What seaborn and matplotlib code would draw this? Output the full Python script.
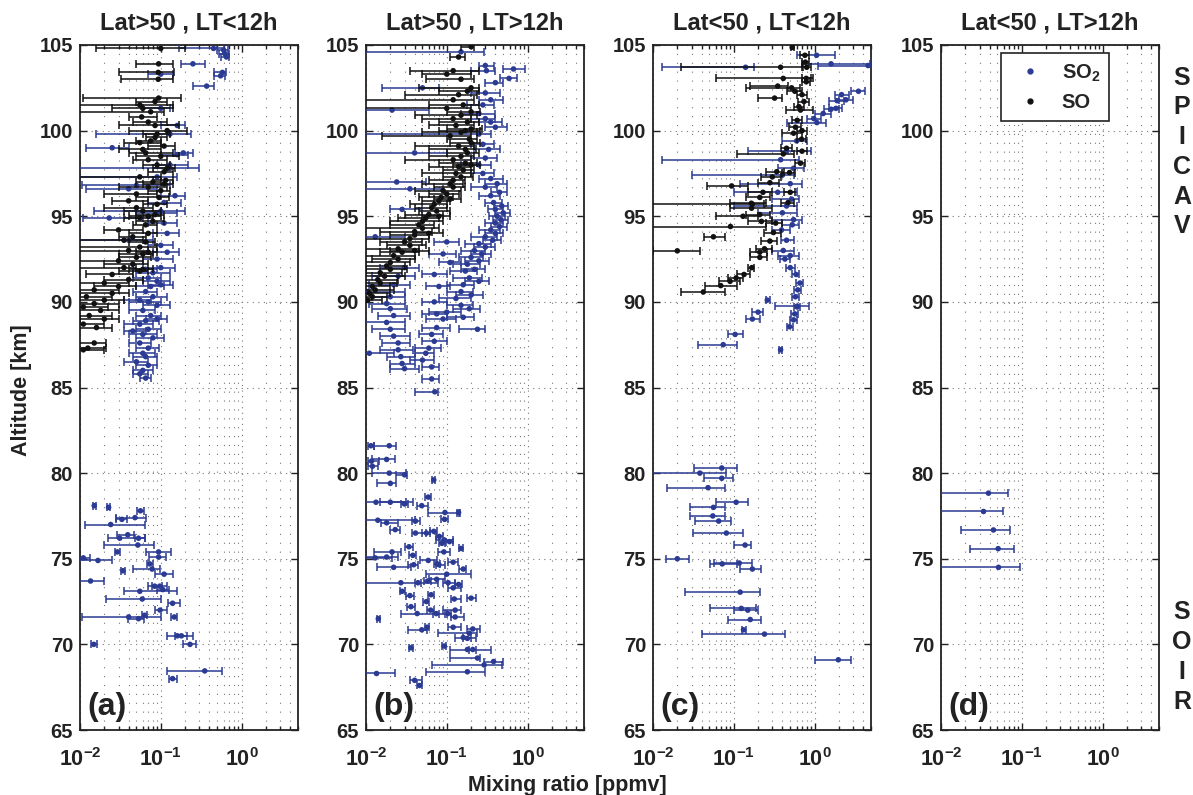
import numpy as np
import pandas as pd
import matplotlib
matplotlib.use("Agg")
import matplotlib.pyplot as plt
import seaborn as sns
from matplotlib.ticker import FixedLocator, FixedFormatter, LogLocator, NullFormatter
from matplotlib.lines import Line2D

# ---------------- data (altitude km, mixing ratio ppmv, bar low, bar high) ----------------
titles = ["Lat>50 , LT<12h", "Lat>50 , LT>12h", "Lat<50 , LT<12h", "Lat<50 , LT>12h"]
panel_labels = ["(a)", "(b)", "(c)", "(d)"]
species_labels = ["SO$_2$", "SO"]
xtick_values = [0.01, 0.1, 1.0]
xtick_labels = [r"$10^{-2}$", r"$10^{-1}$", r"$10^{0}$"]
ytick_values = [65, 70, 75, 80, 85, 90, 95, 100, 105]

a_so2 = [
    (104.8, 0.45, 0.17, 0.60), (104.7, 0.60, 0.50, 0.68), (104.5, 0.62, 0.52, 0.70), (104.3, 0.65, 0.55, 0.70),
    (103.9, 0.25, 0.18, 0.35), (103.4, 0.58, 0.45, 0.65), (103.2, 0.55, 0.45, 0.62), (103.3, 0.10, 0.07, 0.14),
    (102.6, 0.37, 0.25, 0.45), (101.3, 0.10, 0.06, 0.13), (100.3, 0.16, 0.10, 0.20), (99.8, 0.13, 0.016, 0.24),
    (99.0, 0.025, 0.012, 0.04), (98.7, 0.19, 0.15, 0.25), (98.6, 0.16, 0.10, 0.22), (98.0, 0.13, 0.09, 0.22),
    (97.8, 0.13, 0.005, 0.30), (97.3, 0.09, 0.005, 0.16), (96.8, 0.05, 0.0105, 0.13), (96.6, 0.04, 0.012, 0.09),
    (96.2, 0.15, 0.10, 0.20), (95.8, 0.11, 0.07, 0.18), (95.3, 0.10, 0.015, 0.20), (95.2, 0.09, 0.05, 0.16),
    (94.9, 0.023, 0.011, 0.06), (94.6, 0.11, 0.07, 0.16), (94.0, 0.12, 0.08, 0.17), (93.6, 0.04, 0.005, 0.08),
    (93.3, 0.10, 0.07, 0.14), (92.9, 0.12, 0.08, 0.17), (92.5, 0.09, 0.06, 0.14), (92.0, 0.10, 0.06, 0.15),
    (91.9, 0.065, 0.045, 0.09), (91.7, 0.08, 0.05, 0.13), (91.4, 0.07, 0.045, 0.10), (91.2, 0.09, 0.06, 0.13),
    (91.0, 0.10, 0.07, 0.14), (90.9, 0.075, 0.05, 0.11), (90.6, 0.065, 0.045, 0.09), (90.3, 0.08, 0.05, 0.12),
    (90.1, 0.055, 0.035, 0.075), (90.0, 0.07, 0.04, 0.10), (89.8, 0.09, 0.06, 0.13), (89.5, 0.06, 0.04, 0.085),
    (89.2, 0.075, 0.05, 0.10), (89.0, 0.09, 0.065, 0.12), (88.9, 0.065, 0.045, 0.095), (88.7, 0.055, 0.035, 0.08),
    (88.4, 0.07, 0.05, 0.10), (88.3, 0.045, 0.035, 0.065), (88.1, 0.06, 0.04, 0.09), (87.9, 0.08, 0.05, 0.11),
    (87.6, 0.055, 0.04, 0.075), (87.3, 0.07, 0.05, 0.095), (87.0, 0.06, 0.04, 0.085), (86.8, 0.065, 0.045, 0.09),
    (86.5, 0.05, 0.035, 0.07), (86.3, 0.07, 0.05, 0.09), (86.0, 0.06, 0.045, 0.08), (85.8, 0.055, 0.045, 0.07),
    (85.55, 0.065, 0.055, 0.075),
    # SOIR
    (78.1, 0.015, 0.0145, 0.0157), (78.0, 0.0226, 0.0215, 0.0238), (77.8, 0.056, 0.051, 0.062),
    (77.4, 0.048, 0.028, 0.066), (77.3, 0.033, 0.028, 0.038), (77.0, 0.024, 0.0115, 0.063),
    (76.4, 0.039, 0.029, 0.046), (76.2, 0.031, 0.022, 0.063), (76.2, 0.053, 0.048, 0.063),
    (75.8, 0.052, 0.020, 0.083), (75.4, 0.094, 0.066, 0.135), (75.4, 0.029, 0.027, 0.031),
    (75.05, 0.011, 0.0095, 0.0133), (75.1, 0.094, 0.071, 0.115), (74.9, 0.0167, 0.0095, 0.025),
    (74.7, 0.073, 0.067, 0.080), (74.4, 0.078, 0.045, 0.099), (74.3, 0.034, 0.032, 0.036),
    (74.1, 0.11, 0.085, 0.14), (73.7, 0.0135, 0.0095, 0.020), (73.4, 0.084, 0.070, 0.103),
    (73.4, 0.097, 0.078, 0.118), (73.1, 0.055, 0.035, 0.160), (73.2, 0.106, 0.090, 0.125),
    (72.65, 0.059, 0.021, 0.100), (72.4, 0.14, 0.123, 0.175), (72.0, 0.098, 0.085, 0.118),
    (71.7, 0.063, 0.058, 0.068), (71.6, 0.040, 0.0105, 0.100), (71.5, 0.053, 0.039, 0.062),
    (71.6, 0.147, 0.135, 0.158), (70.5, 0.16, 0.120, 0.250), (70.5, 0.18, 0.150, 0.210),
    (70.0, 0.23, 0.190, 0.270), (70.0, 0.0148, 0.0135, 0.0162), (68.45, 0.35, 0.120, 0.580),
    (68.0, 0.14, 0.126, 0.158),
]

a_so = [
    (104.8, 0.10, 0.016, 0.20), (103.9, 0.094, 0.05, 0.14), (103.4, 0.093, 0.03, 0.145), (103.0, 0.093, 0.032, 0.14),
    (101.9, 0.094, 0.011, 0.18), (101.7, 0.085, 0.05, 0.12), (101.5, 0.055, 0.005, 0.14), (101.3, 0.06, 0.025, 0.14),
    (101.1, 0.075, 0.005, 0.11), (100.8, 0.058, 0.04, 0.09), (100.5, 0.07, 0.045, 0.12), (100.3, 0.085, 0.03, 0.17),
    (100.0, 0.12, 0.04, 0.21), (99.8, 0.09, 0.06, 0.13), (99.6, 0.085, 0.065, 0.12), (99.4, 0.075, 0.05, 0.10),
    (99.3, 0.055, 0.035, 0.10), (99.1, 0.11, 0.07, 0.15), (98.9, 0.06, 0.03, 0.10), (98.7, 0.065, 0.04, 0.14),
    (98.5, 0.10, 0.05, 0.17), (98.3, 0.07, 0.045, 0.12), (98.0, 0.09, 0.06, 0.13), (97.8, 0.12, 0.08, 0.15),
    (97.6, 0.11, 0.07, 0.14), (97.3, 0.055, 0.005, 0.10), (97.1, 0.115, 0.08, 0.14), (97.0, 0.08, 0.05, 0.10),
    (96.9, 0.11, 0.06, 0.14), (96.7, 0.07, 0.03, 0.12), (96.5, 0.10, 0.07, 0.13), (96.3, 0.05, 0.02, 0.09),
    (96.1, 0.095, 0.05, 0.125), (95.9, 0.04, 0.025, 0.07), (95.7, 0.09, 0.06, 0.12), (95.5, 0.05, 0.02, 0.08),
    (95.3, 0.06, 0.035, 0.10), (95.1, 0.085, 0.05, 0.11), (95.0, 0.07, 0.04, 0.10), (94.9, 0.055, 0.035, 0.08),
    (94.7, 0.08, 0.05, 0.11), (94.5, 0.065, 0.045, 0.09), (94.2, 0.03, 0.02, 0.06), (94.0, 0.07, 0.04, 0.09),
    (93.8, 0.045, 0.03, 0.065), (93.6, 0.035, 0.005, 0.06), (93.5, 0.065, 0.04, 0.085), (93.2, 0.055, 0.005, 0.09),
    (93.0, 0.04, 0.005, 0.07), (92.9, 0.07, 0.05, 0.09), (92.8, 0.06, 0.03, 0.08), (92.6, 0.05, 0.03, 0.075),
    (92.4, 0.03, 0.005, 0.06), (92.2, 0.045, 0.02, 0.07), (92.0, 0.035, 0.005, 0.05), (91.9, 0.06, 0.04, 0.08),
    (91.8, 0.055, 0.03, 0.07), (91.6, 0.025, 0.012, 0.045), (91.3, 0.04, 0.02, 0.06), (91.1, 0.02, 0.005, 0.04),
    (90.9, 0.03, 0.015, 0.05), (90.7, 0.015, 0.005, 0.03), (90.5, 0.025, 0.01, 0.04), (90.3, 0.012, 0.005, 0.025),
    (90.1, 0.02, 0.005, 0.035), (89.9, 0.015, 0.005, 0.03), (89.7, 0.011, 0.005, 0.022), (89.5, 0.018, 0.005, 0.03),
    (89.2, 0.013, 0.005, 0.025), (89.0, 0.02, 0.01, 0.03), (88.7, 0.011, 0.005, 0.02), (88.5, 0.016, 0.005, 0.025),
    (87.6, 0.015, 0.005, 0.021), (87.3, 0.0125, 0.005, 0.021), (87.2, 0.011, 0.005, 0.02),
]

b_so2 = [
    (104.6, 0.15, 0.005, 0.29), (103.8, 0.30, 0.25, 0.38), (103.5, 0.31, 0.20, 0.40), (103.6, 0.67, 0.49, 0.94),
    (103.05, 0.59, 0.45, 0.75), (102.8, 0.40, 0.30, 0.50), (102.5, 0.05, 0.016, 0.08), (102.2, 0.30, 0.20, 0.45),
    (101.8, 0.35, 0.25, 0.50), (101.5, 0.28, 0.18, 0.38), (101.2, 0.021, 0.005, 0.06), (101.0, 0.25, 0.15, 0.40),
    (100.7, 0.30, 0.20, 0.40), (100.5, 0.35, 0.25, 0.48), (100.2, 0.40, 0.30, 0.55), (99.8, 0.25, 0.005, 0.35),
    (99.2, 0.28, 0.20, 0.38), (98.9, 0.33, 0.22, 0.45), (98.7, 0.04, 0.005, 0.10), (98.4, 0.30, 0.20, 0.42),
    (98.0, 0.25, 0.15, 0.35), (97.5, 0.28, 0.20, 0.38), (97.2, 0.35, 0.25, 0.50), (97.0, 0.024, 0.005, 0.055),
    (96.9, 0.42, 0.30, 0.55), (96.7, 0.30, 0.20, 0.42), (96.6, 0.035, 0.005, 0.09), (96.4, 0.45, 0.35, 0.55),
    (96.2, 0.35, 0.25, 0.45), (95.8, 0.38, 0.30, 0.48), (95.6, 0.48, 0.38, 0.58), (95.4, 0.028, 0.02, 0.05),
    (95.4, 0.40, 0.32, 0.50), (95.2, 0.50, 0.40, 0.60), (95.0, 0.42, 0.33, 0.52), (94.8, 0.47, 0.37, 0.57),
    (94.6, 0.40, 0.30, 0.50), (94.4, 0.45, 0.35, 0.55), (94.2, 0.35, 0.25, 0.45), (94.0, 0.40, 0.30, 0.50),
    (93.8, 0.013, 0.005, 0.03), (93.8, 0.30, 0.20, 0.42), (93.6, 0.37, 0.28, 0.47), (93.5, 0.10, 0.07, 0.14),
    (93.4, 0.25, 0.17, 0.35), (93.2, 0.30, 0.22, 0.40), (93.0, 0.22, 0.15, 0.30), (92.8, 0.09, 0.06, 0.13),
    (92.8, 0.27, 0.20, 0.35), (92.6, 0.20, 0.14, 0.28), (92.4, 0.25, 0.17, 0.33), (92.3, 0.11, 0.08, 0.15),
    (92.2, 0.18, 0.12, 0.26), (92.0, 0.03, 0.015, 0.045), (91.9, 0.22, 0.15, 0.30), (91.8, 0.17, 0.11, 0.24),
    (91.6, 0.07, 0.05, 0.10), (91.5, 0.025, 0.012, 0.04), (91.4, 0.19, 0.12, 0.27), (91.2, 0.25, 0.17, 0.33),
    (91.0, 0.16, 0.10, 0.22), (91.0, 0.022, 0.011, 0.035), (90.9, 0.08, 0.055, 0.11), (90.6, 0.15, 0.10, 0.21),
    (90.6, 0.0105, 0.005, 0.03), (90.4, 0.20, 0.13, 0.28), (90.3, 0.02, 0.012, 0.03), (90.2, 0.13, 0.08, 0.20),
    (90.0, 0.07, 0.05, 0.10), (89.9, 0.018, 0.011, 0.03), (89.8, 0.15, 0.10, 0.21), (89.6, 0.02, 0.012, 0.032),
    (89.6, 0.19, 0.12, 0.26), (89.4, 0.10, 0.06, 0.15), (89.3, 0.075, 0.05, 0.10), (89.2, 0.022, 0.014, 0.035),
    (89.1, 0.16, 0.10, 0.22), (89.0, 0.09, 0.055, 0.13), (88.8, 0.018, 0.005, 0.03), (88.5, 0.075, 0.05, 0.11),
    (88.4, 0.24, 0.14, 0.30), (88.4, 0.02, 0.012, 0.03), (88.1, 0.065, 0.045, 0.09), (88.0, 0.022, 0.015, 0.035),
    (87.7, 0.07, 0.05, 0.10), (87.6, 0.025, 0.016, 0.035), (87.3, 0.06, 0.04, 0.085), (87.2, 0.025, 0.015, 0.038),
    (87.0, 0.055, 0.04, 0.07), (87.0, 0.011, 0.005, 0.022), (86.8, 0.027, 0.018, 0.04), (86.6, 0.05, 0.035, 0.07),
    (86.4, 0.028, 0.02, 0.04), (86.2, 0.065, 0.05, 0.08), (86.1, 0.03, 0.02, 0.045), (85.5, 0.065, 0.05, 0.08),
    # SOIR
    (84.75, 0.071, 0.040, 0.077), (81.6, 0.0115, 0.0105, 0.0127), (81.6, 0.0194, 0.0127, 0.0237),
    (80.8, 0.018, 0.0117, 0.0227), (80.7, 0.0117, 0.0105, 0.0145), (80.4, 0.012, 0.0105, 0.014),
    (80.0, 0.0194, 0.0117, 0.0317), (79.9, 0.030, 0.0237, 0.0322), (79.4, 0.020, 0.0135, 0.0233),
    (79.6, 0.069, 0.066, 0.072), (78.6, 0.059, 0.053, 0.064), (78.3, 0.0133, 0.0095, 0.0317),
    (78.3, 0.020, 0.0150, 0.0377), (78.2, 0.030, 0.027, 0.033), (78.1, 0.049, 0.043, 0.059),
    (77.7, 0.095, 0.058, 0.14), (77.7, 0.14, 0.132, 0.145), (77.3, 0.094, 0.086, 0.104),
    (77.25, 0.014, 0.0095, 0.041), (77.1, 0.018, 0.0153, 0.0252), (77.2, 0.041, 0.037, 0.046),
    (76.7, 0.023, 0.020, 0.026), (76.5, 0.041, 0.037, 0.056), (76.5, 0.056, 0.050, 0.062),
    (76.6, 0.069, 0.062, 0.076), (76.3, 0.081, 0.074, 0.090), (76.1, 0.093, 0.073, 0.12),
    (76.0, 0.108, 0.098, 0.118), (75.9, 0.087, 0.080, 0.095), (75.6, 0.15, 0.143, 0.16),
    (75.7, 0.034, 0.030, 0.038), (75.4, 0.092, 0.077, 0.11), (75.4, 0.021, 0.0127, 0.027),
    (75.2, 0.038, 0.034, 0.042), (75.1, 0.018, 0.0095, 0.025), (75.05, 0.013, 0.0095, 0.021),
    (74.9, 0.059, 0.046, 0.075), (74.7, 0.076, 0.070, 0.082), (74.65, 0.080, 0.073, 0.095),
    (74.8, 0.12, 0.104, 0.138), (74.65, 0.039, 0.033, 0.044), (74.5, 0.022, 0.0135, 0.036),
    (74.4, 0.16, 0.143, 0.175), (74.1, 0.10, 0.055, 0.20), (73.8, 0.075, 0.061, 0.095),
    (73.6, 0.027, 0.0095, 0.077), (73.6, 0.044, 0.040, 0.048), (73.7, 0.058, 0.052, 0.064),
    (73.6, 0.104, 0.089, 0.127), (73.5, 0.14, 0.125, 0.155), (73.1, 0.028, 0.026, 0.030),
    (72.85, 0.035, 0.031, 0.039), (72.9, 0.064, 0.058, 0.070), (73.3, 0.12, 0.104, 0.15),
    (72.65, 0.124, 0.113, 0.15), (72.7, 0.20, 0.18, 0.23), (72.2, 0.036, 0.032, 0.040),
    (72.5, 0.056, 0.051, 0.061), (72.0, 0.063, 0.057, 0.069), (71.8, 0.043, 0.027, 0.10),
    (71.8, 0.074, 0.068, 0.081), (71.8, 0.103, 0.094, 0.113), (72.0, 0.127, 0.089, 0.15),
    (71.6, 0.127, 0.113, 0.165), (71.5, 0.0142, 0.0135, 0.015), (71.0, 0.057, 0.054, 0.060),
    (70.85, 0.049, 0.033, 0.057), (71.0, 0.12, 0.104, 0.15), (70.9, 0.21, 0.18, 0.26),
    (70.65, 0.19, 0.077, 0.24), (70.4, 0.16, 0.127, 0.23), (70.35, 0.18, 0.16, 0.20),
    (69.9, 0.093, 0.088, 0.098), (69.8, 0.036, 0.034, 0.038), (69.7, 0.18, 0.11, 0.35),
    (69.7, 0.21, 0.19, 0.23), (69.2, 0.24, 0.11, 0.26), (69.0, 0.38, 0.29, 0.50),
    (68.8, 0.29, 0.066, 0.48), (68.3, 0.0135, 0.0095, 0.0227), (68.4, 0.18, 0.055, 0.30),
    (67.9, 0.040, 0.035, 0.050), (67.6, 0.046, 0.043, 0.049),
]

b_so = [
    (104.9, 0.20, 0.15, 0.22), (104.3, 0.14, 0.11, 0.17), (103.5, 0.12, 0.035, 0.25), (103.3, 0.10, 0.05, 0.20),
    (103.0, 0.15, 0.055, 0.22), (102.5, 0.20, 0.045, 0.25), (102.3, 0.18, 0.08, 0.25), (102.1, 0.14, 0.03, 0.24),
    (101.8, 0.12, 0.005, 0.22), (101.5, 0.16, 0.06, 0.25), (101.3, 0.10, 0.005, 0.20), (101.1, 0.20, 0.10, 0.26),
    (100.9, 0.15, 0.04, 0.24), (100.7, 0.12, 0.05, 0.20), (100.5, 0.18, 0.08, 0.25), (100.3, 0.13, 0.06, 0.22),
    (100.1, 0.20, 0.10, 0.27), (100.0, 0.17, 0.08, 0.26), (99.9, 0.15, 0.05, 0.24), (99.7, 0.11, 0.016, 0.20),
    (99.5, 0.19, 0.10, 0.24), (99.3, 0.20, 0.11, 0.26), (99.1, 0.14, 0.04, 0.22), (98.9, 0.17, 0.06, 0.23),
    (98.7, 0.18, 0.10, 0.25), (98.5, 0.15, 0.06, 0.22), (98.3, 0.12, 0.03, 0.20), (98.1, 0.17, 0.08, 0.24),
    (98.0, 0.20, 0.12, 0.26), (97.9, 0.14, 0.06, 0.20), (97.7, 0.16, 0.09, 0.22), (97.5, 0.13, 0.05, 0.20),
    (97.3, 0.15, 0.09, 0.21), (97.1, 0.12, 0.06, 0.17), (96.9, 0.11, 0.05, 0.16), (96.7, 0.12, 0.07, 0.17),
    (96.5, 0.09, 0.04, 0.15), (96.3, 0.10, 0.06, 0.14), (96.1, 0.085, 0.045, 0.12), (96.0, 0.11, 0.07, 0.15),
    (95.9, 0.08, 0.05, 0.11), (95.7, 0.07, 0.035, 0.10), (95.5, 0.065, 0.04, 0.10), (95.3, 0.075, 0.045, 0.11),
    (95.1, 0.06, 0.03, 0.09), (95.0, 0.08, 0.05, 0.11), (94.9, 0.055, 0.025, 0.08), (94.7, 0.05, 0.02, 0.09),
    (94.5, 0.045, 0.02, 0.07), (94.3, 0.05, 0.005, 0.08), (94.1, 0.04, 0.015, 0.065), (94.0, 0.06, 0.04, 0.09),
    (93.9, 0.04, 0.02, 0.06), (93.7, 0.035, 0.005, 0.06), (93.5, 0.03, 0.015, 0.05), (93.3, 0.035, 0.018, 0.055),
    (93.1, 0.025, 0.005, 0.045), (93.0, 0.04, 0.02, 0.06), (92.9, 0.028, 0.015, 0.045), (92.7, 0.022, 0.005, 0.04),
    (92.5, 0.025, 0.012, 0.04), (92.3, 0.02, 0.005, 0.035), (92.1, 0.018, 0.005, 0.03), (91.9, 0.02, 0.01, 0.032),
    (91.7, 0.015, 0.005, 0.028), (91.5, 0.017, 0.005, 0.03), (91.3, 0.014, 0.005, 0.025), (91.1, 0.015, 0.005, 0.024),
    (90.9, 0.012, 0.005, 0.02), (90.7, 0.013, 0.005, 0.022), (90.5, 0.011, 0.005, 0.02), (90.3, 0.012, 0.005, 0.018),
    (90.1, 0.0105, 0.005, 0.016),
]

c_so2 = [
    (104.4, 1.06, 0.60, 1.80), (103.7, 0.14, 0.013, 0.18), (103.9, 1.60, 0.70, 4.80), (103.8, 4.60, 1.10, 6.00),
    (102.3, 3.50, 2.80, 4.20), (102.1, 2.16, 1.80, 2.70), (101.8, 2.45, 2.00, 3.00), (101.75, 1.90, 1.50, 2.30),
    (101.3, 1.84, 1.50, 2.20), (101.25, 1.60, 1.30, 2.00), (101.0, 1.28, 1.00, 1.60), (100.7, 0.98, 0.80, 1.20),
    (100.47, 1.07, 0.45, 1.40), (99.4, 0.60, 0.40, 0.80), (98.8, 0.45, 0.15, 0.90), (98.3, 0.38, 0.013, 0.65),
    (97.8, 0.55, 0.35, 0.75), (97.4, 0.40, 0.03, 0.55), (96.9, 0.50, 0.12, 0.70), (96.4, 0.35, 0.10, 0.60),
    (96.0, 0.52, 0.30, 0.65), (95.6, 0.45, 0.10, 0.60), (95.2, 0.40, 0.20, 0.60), (94.8, 0.55, 0.30, 0.70),
    (94.5, 0.53, 0.40, 0.65), (94.2, 0.39, 0.30, 0.50), (93.6, 0.45, 0.38, 0.55), (93.0, 0.41, 0.30, 0.55),
    (92.7, 0.50, 0.35, 0.65), (92.5, 0.43, 0.37, 0.50), (92.0, 0.50, 0.44, 0.57), (91.6, 0.59, 0.53, 0.65),
    (91.1, 0.66, 0.59, 0.72), (90.7, 0.62, 0.56, 0.68), (90.3, 0.58, 0.52, 0.64), (90.1, 0.26, 0.25, 0.28),
    (89.75, 0.61, 0.32, 0.85), (89.7, 0.61, 0.55, 0.67), (89.4, 0.20, 0.17, 0.23), (89.3, 0.57, 0.51, 0.63),
    (89.0, 0.17, 0.14, 0.21), (88.95, 0.55, 0.50, 0.60), (88.55, 0.49, 0.45, 0.54), (88.1, 0.104, 0.085, 0.13),
    (87.5, 0.074, 0.036, 0.11), (87.2, 0.38, 0.36, 0.40),
    # SOIR
    (80.3, 0.071, 0.032, 0.11), (80.0, 0.038, 0.009, 0.081), (79.7, 0.071, 0.043, 0.097),
    (79.15, 0.048, 0.015, 0.077), (78.3, 0.107, 0.060, 0.15), (78.0, 0.056, 0.029, 0.077),
    (77.5, 0.055, 0.029, 0.077), (77.2, 0.065, 0.033, 0.093), (76.5, 0.081, 0.031, 0.13),
    (75.8, 0.138, 0.10, 0.165), (75.0, 0.020, 0.0145, 0.028), (74.7, 0.072, 0.051, 0.11),
    (74.75, 0.117, 0.057, 0.17), (74.4, 0.17, 0.121, 0.22), (73.05, 0.12, 0.025, 0.21),
    (72.1, 0.124, 0.051, 0.19), (72.0, 0.149, 0.10, 0.20), (71.45, 0.16, 0.085, 0.22),
    (70.85, 0.132, 0.125, 0.14), (70.6, 0.24, 0.040, 0.43), (69.1, 1.97, 1.00, 2.80),
]

c_so = [
    (104.86, 0.53, 0.51, 0.55), (104.4, 0.76, 0.66, 0.86), (104.0, 0.77, 0.70, 0.85), (103.7, 0.38, 0.022, 0.70),
    (103.7, 0.80, 0.72, 0.90), (103.05, 0.41, 0.060, 0.95), (103.05, 0.79, 0.70, 0.90), (102.85, 0.79, 0.70, 0.88),
    (102.6, 0.35, 0.16, 0.47), (102.5, 0.52, 0.14, 0.66), (102.3, 0.57, 0.45, 0.70), (102.1, 0.70, 0.60, 0.80),
    (101.9, 0.32, 0.20, 0.40), (101.7, 0.74, 0.63, 0.85), (101.4, 0.64, 0.55, 0.73), (101.2, 0.67, 0.44, 0.95),
    (100.6, 0.61, 0.52, 0.70), (100.2, 0.58, 0.48, 0.68), (100.0, 0.70, 0.60, 0.80), (99.85, 0.55, 0.40, 0.70),
    (99.5, 0.69, 0.60, 0.78), (98.97, 0.45, 0.38, 0.52), (98.8, 0.70, 0.60, 0.80), (98.64, 0.41, 0.11, 0.55),
    (98.1, 0.67, 0.58, 0.76), (97.6, 0.34, 0.25, 0.42), (97.55, 0.49, 0.40, 0.58), (97.3, 0.30, 0.22, 0.38),
    (96.96, 0.28, 0.20, 0.36), (96.77, 0.094, 0.046, 0.15), (96.4, 0.50, 0.42, 0.58), (96.4, 0.23, 0.15, 0.30),
    (96.1, 0.21, 0.14, 0.28), (95.8, 0.47, 0.38, 0.55), (95.76, 0.165, 0.09, 0.25), (95.7, 0.17, 0.005, 0.24),
    (95.47, 0.166, 0.09, 0.30), (95.0, 0.13, 0.06, 0.20), (95.1, 0.21, 0.14, 0.28), (94.7, 0.22, 0.15, 0.30),
    (94.6, 0.33, 0.25, 0.40), (94.4, 0.091, 0.005, 0.25), (94.05, 0.31, 0.24, 0.38), (93.8, 0.056, 0.043, 0.078),
    (93.55, 0.28, 0.22, 0.34), (93.1, 0.24, 0.19, 0.30), (92.98, 0.020, 0.010, 0.038), (92.9, 0.21, 0.16, 0.26),
    (92.6, 0.21, 0.16, 0.26), (92.0, 0.167, 0.15, 0.18), (91.6, 0.134, 0.11, 0.16), (91.4, 0.107, 0.085, 0.13),
    (91.2, 0.09, 0.065, 0.12), (90.95, 0.069, 0.044, 0.11), (90.58, 0.042, 0.022, 0.078),
]

d_so2 = [
    (78.83, 0.0387, 0.005, 0.068), (77.76, 0.0336, 0.005, 0.058), (76.68, 0.0446, 0.0178, 0.072),
    (75.59, 0.051, 0.023, 0.080), (74.5, 0.0515, 0.005, 0.095),
]

panels_so2 = [a_so2, b_so2, c_so2, d_so2]
panels_so = [a_so, b_so, c_so, []]

# ---------------- style ----------------
sns.set_style("ticks")
plt.rcParams["font.family"] = ["Liberation Sans", "DejaVu Sans"]
plt.rcParams["font.weight"] = "bold"
plt.rcParams["mathtext.fontset"] = "custom"
plt.rcParams["mathtext.rm"] = "Liberation Sans:bold"
plt.rcParams["mathtext.it"] = "Liberation Sans:bold"
plt.rcParams["mathtext.bf"] = "Liberation Sans:bold"
plt.rcParams["mathtext.default"] = "rm"

BLUE = "#2b3a93"
BLACK = "#111111"
TXT = "#222222"

W, H = 1193, 795
fig = plt.figure(figsize=(W / 100, H / 100), dpi=100)
lefts = [80, 366, 653, 941]
axw, top, bottom = 218, 45, 730


def draw_series(ax, rows, color, z):
    if not rows:
        return
    df = pd.DataFrame(rows, columns=["alt", "val", "lo", "hi"])
    ax.errorbar(df["val"], df["alt"], xerr=[df["val"] - df["lo"], df["hi"] - df["val"]],
                fmt="none", ecolor=color, elinewidth=1.1, capsize=3.2, capthick=1.1, zorder=z)
    sns.scatterplot(data=df, x="val", y="alt", ax=ax, color=color, s=16, edgecolor="none",
                    linewidth=0, zorder=z + 0.5, legend=False)


for i in range(4):
    ax = fig.add_axes([lefts[i] / W, (H - bottom) / H, axw / W, (bottom - top) / H])
    ax.set_xscale("log")
    ax.set_xlim(0.01, 5)
    ax.set_ylim(65, 105)
    draw_series(ax, panels_so2[i], BLUE, 3)
    draw_series(ax, panels_so[i], BLACK, 4)
    ax.set_xlabel("")
    ax.set_ylabel("")
    ax.xaxis.set_major_locator(FixedLocator(xtick_values))
    ax.xaxis.set_major_formatter(FixedFormatter(xtick_labels))
    ax.xaxis.set_minor_locator(LogLocator(base=10, subs=np.arange(2, 10)))
    ax.xaxis.set_minor_formatter(NullFormatter())
    ax.yaxis.set_major_locator(FixedLocator(ytick_values))
    ax.tick_params(axis="both", which="both", direction="in", top=True, right=True,
                   width=1.0, colors=TXT)
    ax.tick_params(axis="y", labelsize=14.5, pad=5)
    ax.tick_params(axis="x", labelsize=15.5, pad=13)
    ax.tick_params(which="major", length=5)
    ax.tick_params(which="minor", length=3)
    for lab in ax.get_xticklabels() + ax.get_yticklabels():
        lab.set_fontweight("bold")
    ax.grid(which="major", axis="both", color="#777777", linestyle=(0, (1, 4)), linewidth=0.8)
    ax.grid(which="minor", axis="x", color="#777777", linestyle=(0, (1, 7)), linewidth=0.8)
    ax.set_axisbelow(True)
    for sp in ax.spines.values():
        sp.set_linewidth(1.3)
        sp.set_color(TXT)
    ax.set_title(titles[i], fontsize=17, fontweight="bold", pad=11, color=TXT)
    ax.text(0.035, 0.012, panel_labels[i], transform=ax.transAxes, fontsize=23,
            fontweight="bold", ha="left", va="bottom", color=TXT, zorder=6)
    if i == 3:
        handles = [Line2D([], [], marker="o", linestyle="none", color=BLUE, markersize=3.5),
                   Line2D([], [], marker="o", linestyle="none", color=BLACK, markersize=3.5)]
        leg = ax.legend(handles, species_labels, loc="upper left", bbox_to_anchor=(0.276, 0.988),
                        fontsize=14.5, frameon=True, fancybox=False, edgecolor=TXT,
                        handlelength=2.0, handletextpad=0.55, borderpad=0.45, labelspacing=0.45,
                        borderaxespad=0)
        leg.get_frame().set_linewidth(1.2)
        leg.get_frame().set_alpha(1)

fig.text(22 / W, 1 - 390 / H, "Altitude [km]", rotation=90, ha="center", va="center",
         fontsize=15.5, fontweight="bold", color=TXT)
fig.text(567 / W, 1 - 785 / H, "Mixing ratio [ppmv]", ha="center", va="center",
         fontsize=15.5, fontweight="bold", color=TXT)
fig.text(1182 / W, 1 - 152 / H, "S\nP\nI\nC\nA\nV", ha="center", va="center",
         fontsize=18, fontweight="bold", linespacing=1.3, color=TXT)
fig.text(1182 / W, 1 - 657 / H, "S\nO\nI\nR", ha="center", va="center",
         fontsize=18, fontweight="bold", linespacing=1.3, color=TXT)

fig.savefig("out.png", dpi=100, facecolor="white")
